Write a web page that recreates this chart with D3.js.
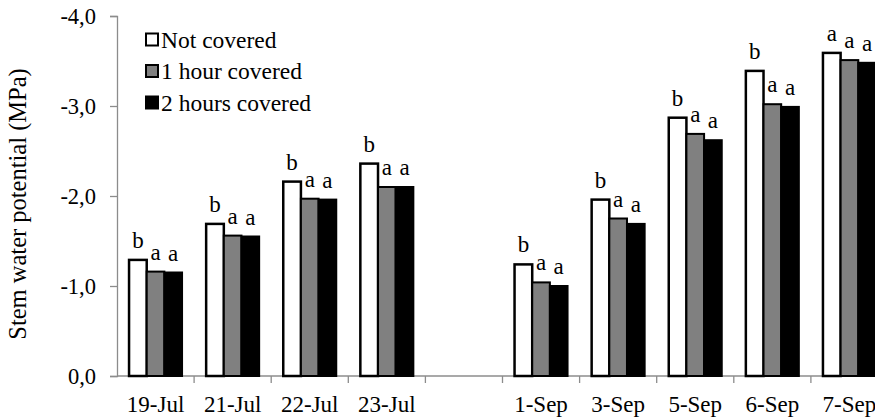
<!DOCTYPE html>
<html><head><meta charset="utf-8">
<script src="https://cdn.jsdelivr.net/npm/d3@7"></script>
<style>body{margin:0;background:#fff}svg{display:block}text{font-family:"Liberation Serif","Times New Roman",serif}</style>
</head><body><svg id="c" width="875" height="418"></svg>
<script>
const categories = ["19-Jul","21-Jul","22-Jul","23-Jul","","1-Sep","3-Sep","5-Sep","6-Sep","7-Sep"];
const seriesNames = ["Not covered","1 hour covered","2 hours covered"];
const notCovered = [1.29,1.69,2.16,2.36,null,1.24,1.96,2.87,3.39,3.59];
const oneHour    = [1.16,1.56,1.97,2.10,null,1.04,1.75,2.69,3.02,3.51];
const twoHours   = [1.15,1.55,1.96,2.10,null,1.00,1.69,2.62,2.99,3.48];
const lettersNC  = ["b","b","b","b",null,"b","b","b","b","a"];
const letters1h  = ["a","a","a","a",null,"a","a","a","a","a"];
const letters2h  = ["a","a","a","a",null,"a","a","a","a","a"];
const yTicks = [0,1,2,3,4];

const svg = d3.select("#c");
const x0 = 117, x1 = 888, yBase = 376, yTop = 16;
const keys = categories.map((c,i)=>"k"+i);
const x = d3.scaleBand().domain(keys).range([x0,x1]).paddingInner(0).paddingOuter(0);
const xs = d3.scaleBand().domain([0,1,2]).range([0,53]);
const y = d3.scaleLinear().domain([0,4]).range([yBase,yTop]);
const fills = ["#ffffff","#808080","#000000"];
const vals = [notCovered,oneHour,twoHours];
const lets = [lettersNC,letters1h,letters2h];
const axisColor = "#8c8c8c";

// axes
const ya = svg.append("g").attr("transform",`translate(${x0},0)`)
  .call(d3.axisLeft(y).tickValues(yTicks).tickSize(7).tickFormat(d=>(d===0?"0,0":"-"+d3.format(".1f")(d).replace(".",","))));
ya.attr("font-family",null);
ya.select(".domain").attr("stroke",axisColor).attr("stroke-width",1.3);
ya.selectAll(".tick line").attr("stroke",axisColor).attr("stroke-width",1.3);
ya.selectAll(".tick text").attr("font-size",22.5).attr("fill","#000").attr("x",-21);

const xa = svg.append("g").attr("transform",`translate(0,${yBase})`);
xa.append("line").attr("x1",x0).attr("x2",875).attr("stroke",axisColor).attr("stroke-width",1.3);
xa.selectAll("line.t").data(keys.slice(1).concat(["end"])).enter().append("line")
  .attr("x1",d=>d==="end"?x1:x(d)).attr("x2",d=>d==="end"?x1:x(d)).attr("y1",0).attr("y2",7)
  .attr("stroke",axisColor).attr("stroke-width",1.3);
xa.selectAll("text").data(categories).enter().append("text")
  .attr("x",(d,i)=>x(keys[i])+x.bandwidth()/2).attr("y",36)
  .attr("text-anchor","middle").attr("font-size",23).text(d=>d);

// bars
const gx = (i)=>x(keys[i])+(x.bandwidth()-53)/2;
vals.forEach((arr,s)=>{
  svg.append("g").selectAll("rect").data(arr.map((v,i)=>({v,i})).filter(d=>d.v!=null)).enter().append("rect")
    .attr("x",d=>gx(d.i)+xs(s)).attr("width",xs.bandwidth())
    .attr("y",d=>y(d.v)).attr("height",d=>yBase-y(d.v))
    .attr("fill",fills[s]).attr("stroke","#000").attr("stroke-width",s===0?2.5:2);
});
lets.forEach((arr,s)=>{
  svg.append("g").selectAll("text").data(arr.map((l,i)=>({l,i,v:vals[s][i]})).filter(d=>d.l)).enter().append("text")
    .attr("x",d=>gx(d.i)+xs(s)+xs.bandwidth()/2).attr("y",d=>y(d.v)-12)
    .attr("text-anchor","middle").attr("font-size",23).text(d=>d.l);
});

// y title
svg.append("text").attr("transform","translate(26,204) rotate(-90)").attr("text-anchor","middle")
  .attr("font-size",24.5).text("Stem water potential  (MPa)");

// legend
const lg = svg.append("g");
seriesNames.forEach((n,i)=>{
  const cy = 40 + i*31.5;
  lg.append("rect").attr("x",146).attr("y",cy-6.5).attr("width",12).attr("height",12)
    .attr("fill",fills[i]).attr("stroke","#000").attr("stroke-width",2);
  lg.append("text").attr("x",161).attr("y",cy+7.5).attr("font-size",23.5).text(n);
});
</script></body></html>
